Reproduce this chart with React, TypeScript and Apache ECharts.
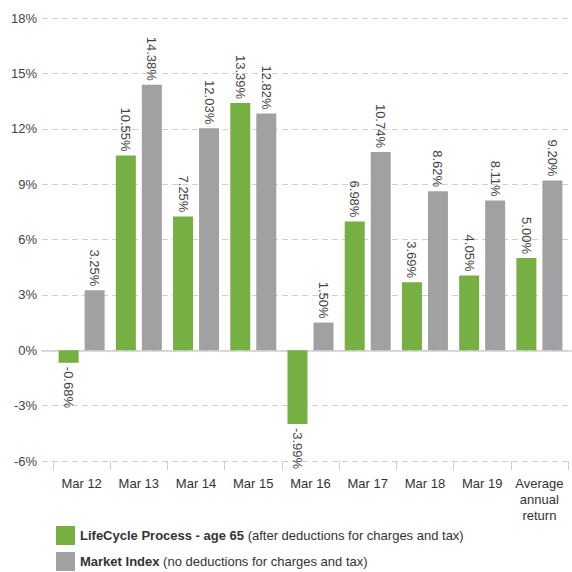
import React, { useEffect, useRef } from "react";
import * as echarts from "echarts";

const categories = ["Mar 12", "Mar 13", "Mar 14", "Mar 15", "Mar 16", "Mar 17", "Mar 18", "Mar 19", "Average\nannual\nreturn"];
const lifeCycle = [-0.68, 10.55, 7.25, 13.39, -3.99, 6.98, 3.69, 4.05, 5.0];
const marketIndex = [3.25, 14.38, 12.03, 12.82, 1.5, 10.74, 8.62, 8.11, 9.2];
const yTicks = { min: -6, max: 18, interval: 3 };
const seriesNames = ["LifeCycle Process - age 65", "Market Index"];
const legendNotes = ["(after deductions for charges and tax)", "(no deductions for charges and tax)"];

const FONT = "'Liberation Sans', Arial, sans-serif";

function makeData(vals: number[]) {
  return vals.map((v) =>
    v < 0
      ? { value: v, label: { position: "bottom", align: "left", verticalAlign: "middle" } }
      : { value: v }
  );
}

export default function App() {
  const ref = useRef<HTMLDivElement>(null);
  useEffect(() => {
    if (!ref.current) return;
    const chart = echarts.init(ref.current, null, { renderer: "svg" });
    const labelCfg = {
      show: true,
      rotate: -90,
      position: "top",
      align: "right",
      verticalAlign: "middle",
      distance: 4,
      color: "#444",
      fontSize: 13,
      fontFamily: FONT,
      formatter: (p: any) => Number(p.value).toFixed(2) + "%",
    };
    chart.setOption({
      animation: false,
      grid: [
        { left: 42, right: 0, top: 18, bottom: 111 },
        { left: 53, right: 4, top: 18, bottom: 111 },
      ],
      legend: {
        orient: "vertical",
        left: 56,
        top: 526,
        height: 60,
        icon: "rect",
        itemWidth: 19,
        itemHeight: 19,
        itemGap: 7,
        padding: 0,
        data: seriesNames,
        formatter: (name: string) => {
          const i = seriesNames.indexOf(name);
          return "{b|" + name + "} {n|" + legendNotes[i] + "}";
        },
        textStyle: {
          fontFamily: FONT,
          fontSize: 13,
          color: "#333",
          rich: {
            b: { fontWeight: "bold", fontSize: 13, color: "#333", fontFamily: FONT },
            n: { fontSize: 13, color: "#333", fontFamily: FONT },
          },
        },
      },
      xAxis: [
        {
          type: "value",
          gridIndex: 0,
          min: 0,
          max: 1,
          axisLabel: { show: false },
          axisTick: { show: false },
          splitLine: { show: false },
          axisLine: { show: true, onZero: true, lineStyle: { color: "#cfcfcf", width: 1.5 } },
        },
        {
          type: "category",
          gridIndex: 1,
          data: categories,
          axisLine: { show: false, onZero: false },
          axisTick: { show: true, length: 9, lineStyle: { color: "#cfcfcf" } },
          axisLabel: {
            color: "#333",
            fontSize: 13,
            fontFamily: FONT,
            lineHeight: 16,
            margin: 14,
            interval: 0,
          },
        },
      ],
      yAxis: [
        {
          type: "value",
          gridIndex: 0,
          min: yTicks.min,
          max: yTicks.max,
          interval: yTicks.interval,
          axisLine: { show: false },
          axisTick: { show: false },
          axisLabel: { formatter: "{value}%", color: "#444", fontSize: 13, fontFamily: FONT, margin: 5 },
          splitLine: { show: true, lineStyle: { color: "#cfcfcf", type: [6, 4], width: 1 } },
        },
        {
          type: "value",
          gridIndex: 1,
          min: yTicks.min,
          max: yTicks.max,
          interval: yTicks.interval,
          axisLine: { show: false },
          axisTick: { show: false },
          axisLabel: { show: false },
          splitLine: { show: false },
        },
      ],
      series: [
        {
          name: seriesNames[0],
          type: "bar",
          xAxisIndex: 1,
          yAxisIndex: 1,
          data: makeData(lifeCycle),
          barWidth: 20,
          barGap: "30%",
          itemStyle: { color: "#76b043" },
          label: labelCfg,
        },
        {
          name: seriesNames[1],
          type: "bar",
          xAxisIndex: 1,
          yAxisIndex: 1,
          data: makeData(marketIndex),
          barWidth: 20,
          barGap: "30%",
          itemStyle: { color: "#a1a1a3" },
          label: labelCfg,
        },
      ],
    });
    return () => chart.dispose();
  }, []);
  return (
    <div
      ref={ref}
      style={{ position: "absolute", left: 0, top: 0, width: 572, height: 572, overflow: "hidden" }}
    />
  );
}
